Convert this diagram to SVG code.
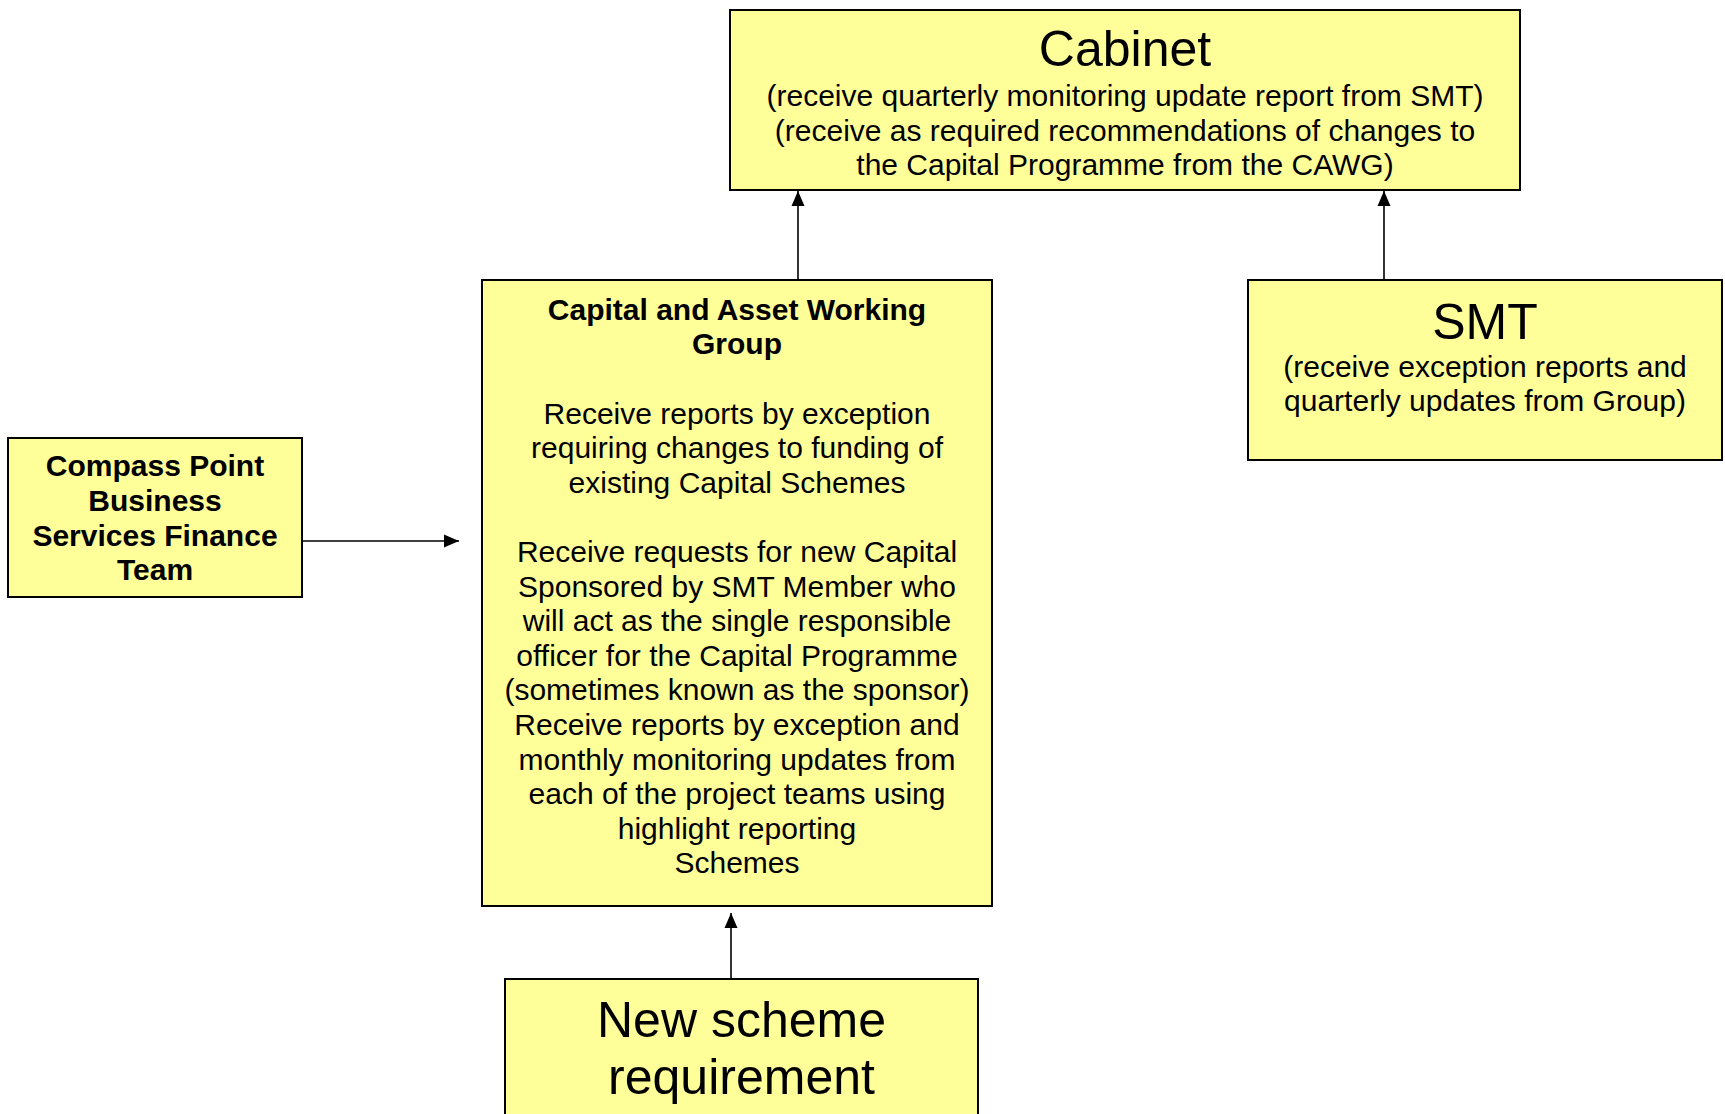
<svg xmlns="http://www.w3.org/2000/svg" width="1725" height="1114" viewBox="0 0 1725 1114">
<style>
.box{fill:#FFFF99;stroke:#000;stroke-width:2}
.t{font-family:"Liberation Sans",Arial,sans-serif;font-size:30px;fill:#000;text-anchor:middle}
.b{font-weight:bold}
.big{font-size:50px}
.conn{stroke:#000;stroke-width:1.6;fill:none}
</style>
<defs>
<marker id="arr" markerUnits="userSpaceOnUse" markerWidth="15" markerHeight="14" viewBox="0 0 15 13" refX="15" refY="6.5" orient="auto">
<path d="M0,0 L15,6.5 L0,13 z" fill="#000"/>
</marker>
</defs>
<rect width="1725" height="1114" fill="#fff"/>
<g id="connectors">
<line class="conn" x1="798" y1="280" x2="798" y2="191" marker-end="url(#arr)"/>
<line class="conn" x1="1384" y1="280" x2="1384" y2="191" marker-end="url(#arr)"/>
<line class="conn" x1="302" y1="541" x2="459" y2="541" marker-end="url(#arr)"/>
<line class="conn" x1="731" y1="979" x2="731" y2="913" marker-end="url(#arr)"/>
</g>
<g id="cabinet">
<rect class="box" x="730" y="10" width="790" height="180"/>
<text class="t big" x="1125" y="66">Cabinet</text>
<text class="t" x="1125" y="106">(receive quarterly monitoring update report from SMT)</text>
<text class="t" x="1125" y="140.5">(receive as required recommendations of changes to</text>
<text class="t" x="1125" y="175">the Capital Programme from the CAWG)</text>
</g>
<g id="cawg">
<rect class="box" x="482" y="280" width="510" height="626"/>
<text class="t b" x="737" y="319.5">Capital and Asset Working</text>
<text class="t b" x="737" y="354.3">Group</text>
<text class="t" x="737" y="423.5">Receive reports by exception</text>
<text class="t" x="737" y="458.1">requiring changes to funding of</text>
<text class="t" x="737" y="492.7">existing Capital Schemes</text>
<text class="t" x="737" y="561.9">Receive requests for new Capital</text>
<text class="t" x="737" y="596.5">Sponsored by SMT Member who</text>
<text class="t" x="737" y="631.1">will act as the single responsible</text>
<text class="t" x="737" y="665.7">officer for the Capital Programme</text>
<text class="t" x="737" y="700.3">(sometimes known as the sponsor)</text>
<text class="t" x="737" y="734.9">Receive reports by exception and</text>
<text class="t" x="737" y="769.5">monthly monitoring updates from</text>
<text class="t" x="737" y="804.1">each of the project teams using</text>
<text class="t" x="737" y="838.7">highlight reporting</text>
<text class="t" x="737" y="873.3">Schemes</text>
</g>
<g id="compass">
<rect class="box" x="8" y="438" width="294" height="159"/>
<text class="t b" x="155" y="476">Compass Point</text>
<text class="t b" x="155" y="510.5">Business</text>
<text class="t b" x="155" y="545.5">Services Finance</text>
<text class="t b" x="155" y="579.5">Team</text>
</g>
<g id="smt">
<rect class="box" x="1248" y="280" width="474" height="180"/>
<text class="t big" x="1485" y="338.5">SMT</text>
<text class="t" x="1485" y="377">(receive exception reports and</text>
<text class="t" x="1485" y="411">quarterly updates from Group)</text>
</g>
<g id="newscheme">
<rect class="box" x="505" y="979" width="473" height="160"/>
<text class="t big" x="741.5" y="1037">New scheme</text>
<text class="t big" x="741.5" y="1093.5">requirement</text>
</g>
</svg>
